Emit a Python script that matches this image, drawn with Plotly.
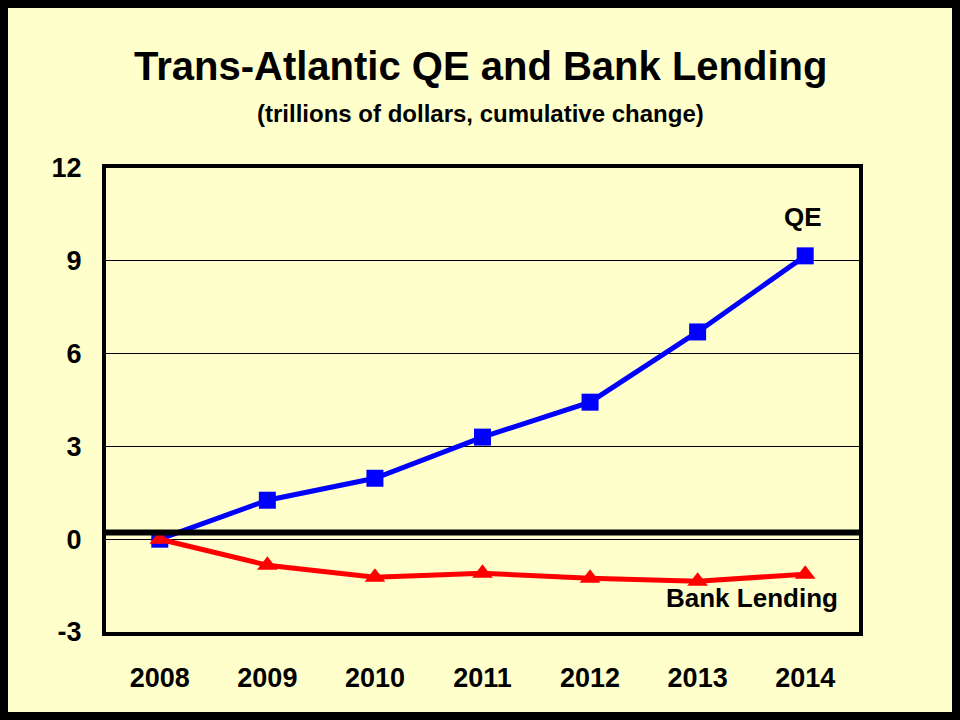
import plotly.graph_objects as go

# -------------------------------------------------------
# Datos (billones de dólares, cambio acumulado)
# -------------------------------------------------------
years = ["2008", "2009", "2010", "2011", "2012", "2013", "2014"]
qe = [0.0, 1.26, 1.97, 3.30, 4.43, 6.70, 9.16]
bank_lending = [0.0, -0.84, -1.23, -1.10, -1.26, -1.36, -1.13]
y_ticks = [-3, 0, 3, 6, 9, 12]
y_tick_labels = ["-3", "0", "3", "6", "9", "12"]

FONT = "Liberation Sans, Arial, sans-serif"
BG = "#FFFFCC"

fig = go.Figure()

fig.add_trace(go.Scatter(
    x=years, y=qe, mode="lines+markers", name="QE",
    line=dict(color="#0000FF", width=5),
    marker=dict(symbol="square", size=17, color="#0000FF"),
    cliponaxis=False,
))
fig.add_trace(go.Scatter(
    x=years, y=bank_lending, mode="lines+markers", name="Bank Lending",
    line=dict(color="#FF0000", width=5),
    marker=dict(symbol="triangle-up", size=18, color="#FF0000"),
    cliponaxis=False,
))

# linea gruesa horizontal justo encima del cero
fig.add_shape(type="line", xref="paper", yref="y", x0=0, x1=1, y0=0.22, y1=0.22,
              line=dict(color="black", width=6))

# marco exterior
W, H, L, B = 753, 464, 106, 632
fig.add_shape(type="rect", xref="paper", yref="paper",
              x0=(4 - L) / W, x1=(956 - L) / W,
              y0=(B - 716) / H, y1=(B - 4) / H,
              line=dict(color="black", width=8))

fig.add_annotation(text="Trans-Atlantic QE and Bank Lending",
                   xref="paper", yref="paper", x=(480 - L) / W, y=(B - 66) / H,
                   xanchor="center", yanchor="middle", showarrow=False,
                   font=dict(family=FONT, size=40, color="black", weight="bold"))
fig.add_annotation(text="(trillions of dollars, cumulative change)",
                   xref="paper", yref="paper", x=(480 - L) / W, y=(B - 114) / H,
                   xanchor="center", yanchor="middle", showarrow=False,
                   font=dict(family=FONT, size=24, color="black", weight="bold"))
fig.add_annotation(text="QE", xref="paper", yref="y",
                   x=(803 - L) / W, y=10.4, xanchor="center", yanchor="middle",
                   showarrow=False,
                   font=dict(family=FONT, size=26, color="black", weight="bold"))
fig.add_annotation(text="Bank Lending", xref="paper", yref="y",
                   x=(752 - L) / W, y=-1.9, xanchor="center", yanchor="middle",
                   showarrow=False,
                   font=dict(family=FONT, size=26, color="black", weight="bold"))

fig.update_layout(
    width=960, height=720,
    margin=dict(l=L, r=960 - 859, t=168, b=720 - B),
    paper_bgcolor=BG, plot_bgcolor=BG,
    showlegend=False,
    font=dict(family=FONT, color="black"),
)
fig.update_xaxes(
    type="category", range=[-0.5, 6.5],
    showgrid=False, showline=True, mirror=True, linecolor="black", linewidth=4,
    ticks="", tickfont=dict(size=27, family=FONT, weight="bold"), ticklabelstandoff=19,
)
fig.update_yaxes(
    range=[-3, 12], tickvals=y_ticks, ticktext=y_tick_labels,
    showgrid=True, gridcolor="black", gridwidth=1, zeroline=False,
    showline=True, mirror=True, linecolor="black", linewidth=4,
    ticks="", tickfont=dict(size=27, family=FONT, weight="bold"), ticklabelstandoff=15,
)

fig.write_html("out.html", config={"displayModeBar": False},
               post_script="document.body.style.margin='0';")
